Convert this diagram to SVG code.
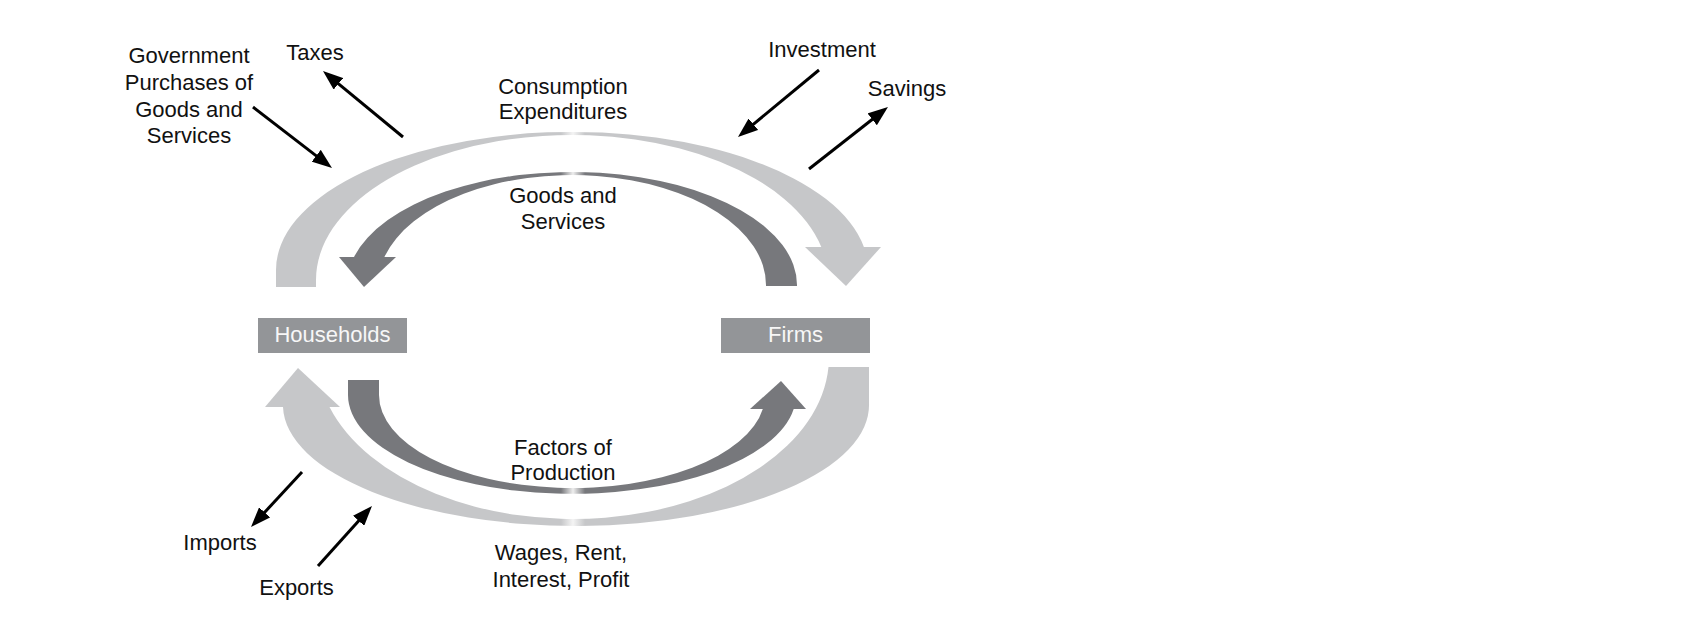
<svg xmlns="http://www.w3.org/2000/svg" width="1700" height="634" viewBox="0 0 1700 634">
<defs>
<style>
text{font-family:"Liberation Sans",Arial,Helvetica,sans-serif;font-size:22px;fill:#111;text-anchor:middle}
.box{fill:#939598}
.boxtxt{fill:#f7f7f7}
.ptr{stroke:#000;stroke-width:3;fill:none;marker-end:url(#ah)}
</style>
<linearGradient id="gLight" gradientUnits="userSpaceOnUse" x1="530" y1="0" x2="616" y2="0">
<stop offset="0" stop-color="#c6c7c9"/>
<stop offset="0.36" stop-color="#c6c7c9"/>
<stop offset="0.5" stop-color="#f4f4f4"/>
<stop offset="0.64" stop-color="#c6c7c9"/>
<stop offset="1" stop-color="#c6c7c9"/>
</linearGradient>
<linearGradient id="gDark" gradientUnits="userSpaceOnUse" x1="530" y1="0" x2="616" y2="0">
<stop offset="0" stop-color="#77787c"/>
<stop offset="0.36" stop-color="#77787c"/>
<stop offset="0.5" stop-color="#eeeeee"/>
<stop offset="0.64" stop-color="#77787c"/>
<stop offset="1" stop-color="#77787c"/>
</linearGradient>
<marker id="ah" markerUnits="userSpaceOnUse" markerWidth="20" markerHeight="15" refX="10" refY="7.5" orient="auto">
<path d="M0,0 L20,7.5 L0,15 Z" fill="#000"/>
</marker>
</defs>
<rect width="1700" height="634" fill="#fff"/>

<g id="connectors">
<!-- Consumption Expenditures (outer upper, light) -->
<g id="flow-consumption">
<path d="M276,287 L276,270 A296,138 0 0 1 863.9,247 L821.3,247 A256,145 0 0 0 316,280 L316,287 Z" fill="url(#gLight)"/>
<polygon points="805,247 881,247 846,286" fill="#c6c7c9"/>
</g>
<!-- Goods and Services (inner upper, dark) -->
<g id="flow-goods">
<path d="M797,286 L797,285 A225,113 0 0 0 354,257 L384.4,257 A194,110 0 0 1 766,285 L766,286 Z" fill="url(#gDark)"/>
<polygon points="339,257 396,257 364,287" fill="#77787c"/>
</g>
<!-- Factors of Production (inner lower, dark) -->
<g id="flow-factors">
<path d="M348,380 L348,395 A224,99 0 0 0 793.7,409 L762.8,409 A193,93 0 0 1 379,395 L379,380 Z" fill="url(#gDark)"/>
<polygon points="750,409 806,409 781,381" fill="#77787c"/>
</g>
<!-- Wages, Rent, Interest, Profit (outer lower, light) -->
<g id="flow-wages">
<path d="M869,367 L869,403 A293,121 0 0 1 283,407 L329.5,407 A256,162 0 0 0 828.5,367 Z" fill="url(#gLight)"/>
<polygon points="265,407 340,407 298,368" fill="#c6c7c9"/>
</g>
<!-- leakages / injections -->
<line class="ptr" x1="253" y1="107" x2="324.1" y2="161.9"/>
<line class="ptr" x1="403" y1="137" x2="330.7" y2="77.4"/>
<line class="ptr" x1="819" y1="70" x2="745.7" y2="130.6"/>
<line class="ptr" x1="809" y1="169" x2="880.1" y2="113.2"/>
<line class="ptr" x1="302" y1="472" x2="257.8" y2="519.7"/>
<line class="ptr" x1="318" y1="566" x2="365.3" y2="513.4"/>
</g>

<g id="households">
<rect class="box" x="258" y="318" width="149" height="35"/>
<text class="boxtxt" x="332.5" y="342">Households</text>
</g>
<g id="firms">
<rect class="box" x="721" y="318" width="149" height="35"/>
<text class="boxtxt" x="795.5" y="342">Firms</text>
</g>

<g id="label-government">
<text x="189" y="63">Government</text>
<text x="189" y="90">Purchases of</text>
<text x="189" y="117">Goods and</text>
<text x="189" y="143">Services</text>
</g>
<g id="label-taxes"><text x="315" y="60">Taxes</text></g>
<g id="label-consumption">
<text x="563" y="94">Consumption</text>
<text x="563" y="119">Expenditures</text>
</g>
<g id="label-investment"><text x="822" y="57">Investment</text></g>
<g id="label-savings"><text x="907" y="96">Savings</text></g>
<g id="label-goods">
<text x="563" y="203">Goods and</text>
<text x="563" y="229">Services</text>
</g>
<g id="label-factors">
<text x="563" y="455">Factors of</text>
<text x="563" y="480">Production</text>
</g>
<g id="label-wages">
<text x="561" y="560">Wages, Rent,</text>
<text x="561" y="587">Interest, Profit</text>
</g>
<g id="label-imports"><text x="220" y="550">Imports</text></g>
<g id="label-exports"><text x="296.5" y="595">Exports</text></g>
</svg>
